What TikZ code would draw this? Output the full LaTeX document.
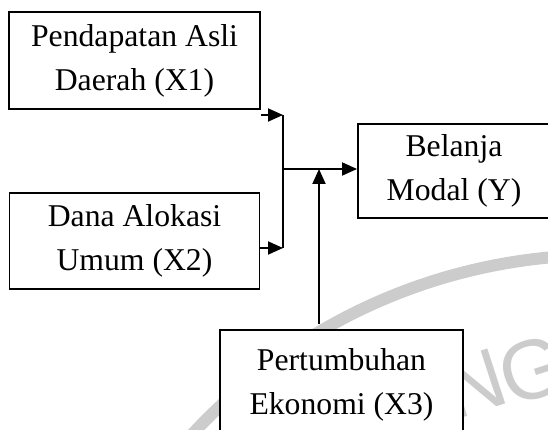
\documentclass[tikz,border=0pt]{standalone}
\usepackage{fontspec}
\setmainfont{Liberation Serif}
\newfontfamily\wmfont{Liberation Sans}
\usetikzlibrary{arrows.meta, positioning}

\begin{document}
\begin{tikzpicture} [x=1pt, y=-1pt, node distance=180pt, on grid,
  box/.style={rectangle, draw, line width=1.9pt, fill=white, align=center, inner sep=0pt,
    font=\fontsize{31.7}{44}\selectfont},
  wmletter/.style={text=black!20, font=\wmfont\fontsize{84}{84}\selectfont, inner sep=0pt}]
\useasboundingbox (0,0) rectangle (548,430);
\clip (0,0) rectangle (548,430);
% watermark
\draw [black!20, line width=12pt] (602,813) circle [radius=558];
\node (wmn) [wmletter, rotate=18] at (474,384) {N};
\node (wmg) [wmletter, rotate=18] at (533,370) {G};
% variables
\node (x1) [box, minimum width=251pt, minimum height=97pt] at (134.5,60.5) {Pendapatan Asli\\Daerah (X1)};
\node (x2) [box, minimum width=250pt, minimum height=96pt, below=180.5pt of x1] {Dana Alokasi\\Umum (X2)};
\node (y) [box, minimum width=192pt, minimum height=94pt] at (454,171) {Belanja\\Modal (Y)};
\node (x3) [box, minimum width=243pt, minimum height=110pt] at (341.5,385) {Pertumbuhan\\Ekonomi (X3)};
% joints
\coordinate (j1) at (283,115);
\coordinate (j2) at (283,248);
\coordinate (jm) at (283,169);
\coordinate (jx) at (319,169);
\coordinate (jx3) at (319,324);
\draw [line width=1.9pt] (j1) -- (j2);
\path [-{Triangle[length=15pt, width=13pt]}, line width=1.9pt]
    (x1.east |- j1) edge (j1)
    (x2.east |- j2) edge (j2)
    (jm) edge (y.west |- jm)
    (jx3) edge (jx);
\end{tikzpicture}
\end{document}
